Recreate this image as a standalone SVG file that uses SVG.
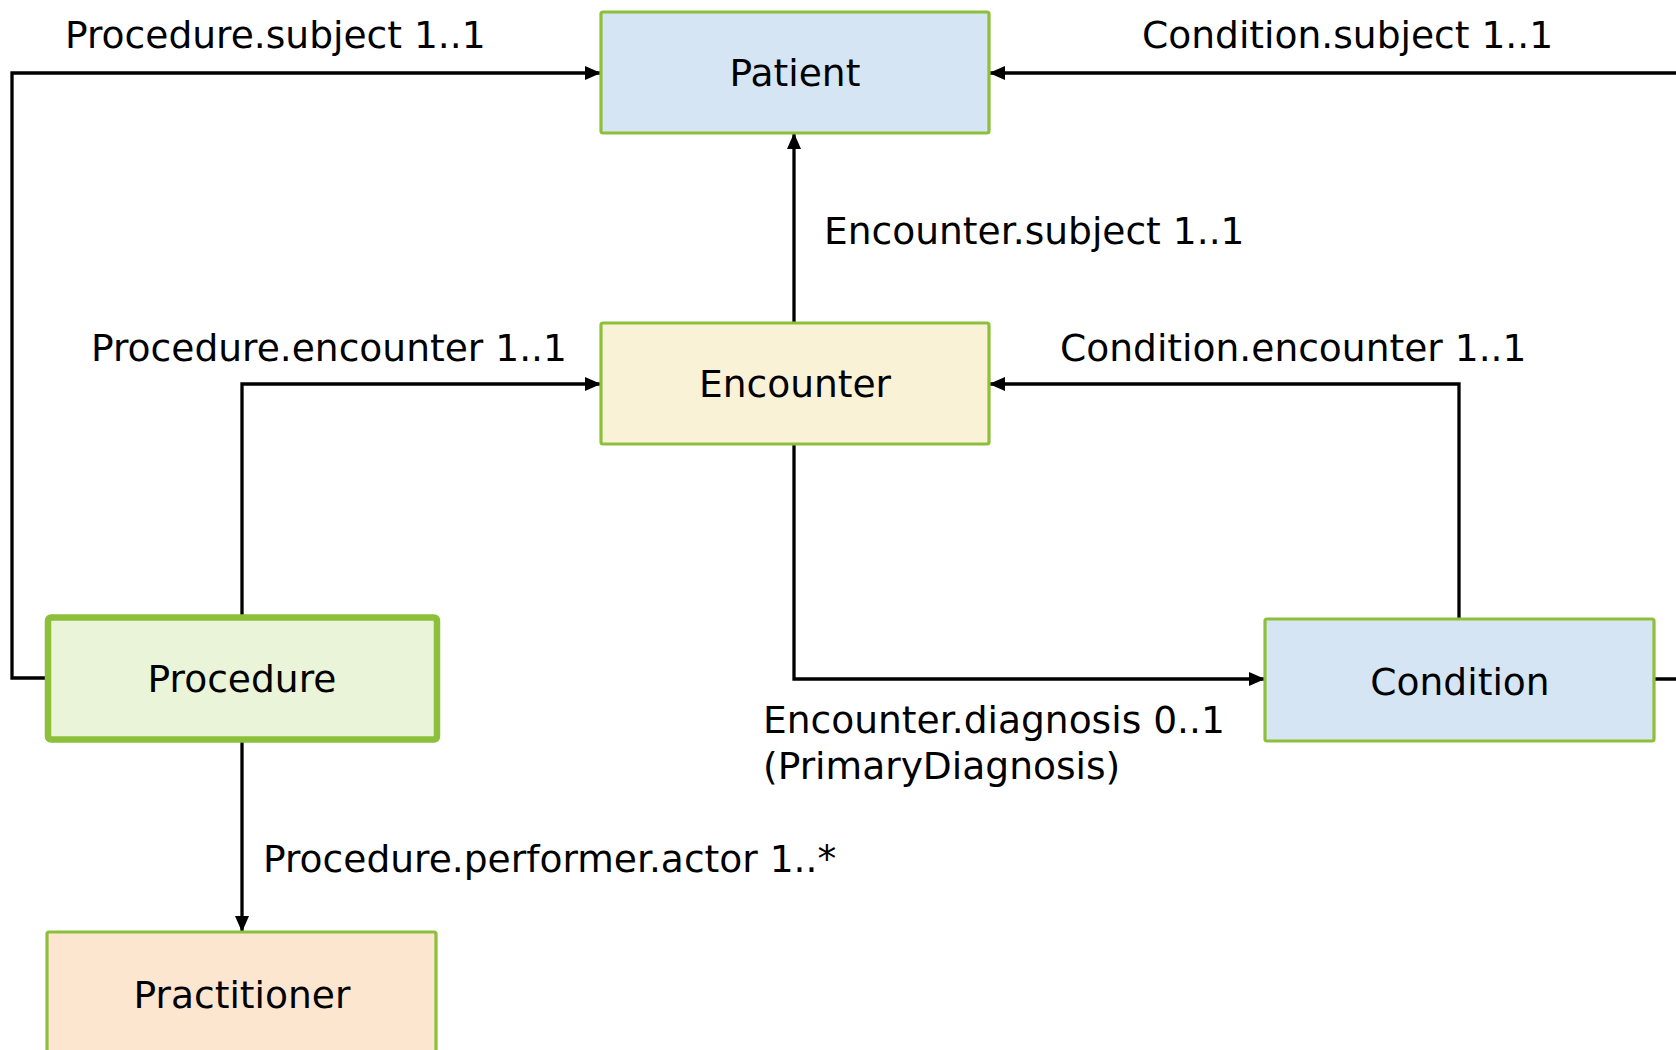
<svg xmlns="http://www.w3.org/2000/svg" width="1676" height="1050" viewBox="0 0 1676 1050">
  <style>
    .node { stroke: #8cbf3a; stroke-width: 3.2; }
    .thick { stroke-width: 6.5; }
    .blue { fill: #d5e5f4; }
    .yellow { fill: #f9f2d7; }
    .green { fill: #e9f4d9; }
    .peach { fill: #fde6d0; }
    .name { font-family: "DejaVu Sans", Verdana, sans-serif; font-size: 37.6px; fill: #000; text-anchor: middle; }
    .lbl { font-family: "DejaVu Sans", Verdana, sans-serif; font-size: 37.6px; fill: #000; }
    .edge { fill: none; stroke: #000; stroke-width: 3.3; marker-end: url(#arrow); }
  </style>
  <defs>
    <marker id="arrow" markerUnits="userSpaceOnUse" markerWidth="16" markerHeight="14" refX="15" refY="7" orient="auto">
      <path d="M0,0 L16,7 L0,14 z" fill="#000"/>
    </marker>
  </defs>
  <rect width="1676" height="1050" fill="#fff"/>

  <!-- connectors -->
  <g id="connectors">
    <path class="edge" d="M46 678 H12 V73 H600"/>
    <path class="edge" d="M1655 679 H1700 V73 H990"/>
    <path class="edge" d="M794 322 V134"/>
    <path class="edge" d="M242 616 V384 H600"/>
    <path class="edge" d="M1459 618 V384 H990"/>
    <path class="edge" d="M794 445 V679 H1264"/>
    <path class="edge" d="M242 741 V931"/>
  </g>

  <!-- connector labels -->
  <g id="labels">
    <text class="lbl" x="65" y="48">Procedure.subject 1..1</text>
    <text class="lbl" x="1142" y="48">Condition.subject 1..1</text>
    <text class="lbl" x="824" y="244">Encounter.subject 1..1</text>
    <text class="lbl" x="91" y="361">Procedure.encounter 1..1</text>
    <text class="lbl" x="1060" y="361">Condition.encounter 1..1</text>
    <text class="lbl" x="763" y="733">Encounter.diagnosis 0..1</text>
    <text class="lbl" x="763" y="779">(PrimaryDiagnosis)</text>
    <text class="lbl" x="263" y="872">Procedure.performer.actor 1..*</text>
  </g>

  <!-- nodes -->
  <g id="patient">
    <rect class="node blue" x="601" y="12" width="388" height="121" rx="2"/>
    <text class="name" x="795" y="86">Patient</text>
  </g>
  <g id="encounter">
    <rect class="node yellow" x="601" y="323" width="388" height="121" rx="2"/>
    <text class="name" x="795" y="397">Encounter</text>
  </g>
  <g id="procedure">
    <rect class="node green thick" x="48" y="617.5" width="389" height="122" rx="3"/>
    <text class="name" x="242" y="692">Procedure</text>
  </g>
  <g id="condition">
    <rect class="node blue" x="1265" y="619" width="389" height="122" rx="2"/>
    <text class="name" x="1460" y="695">Condition</text>
  </g>
  <g id="practitioner">
    <rect class="node peach" x="47" y="932" width="389" height="150" rx="2"/>
    <text class="name" x="242" y="1008">Practitioner</text>
  </g>
</svg>
